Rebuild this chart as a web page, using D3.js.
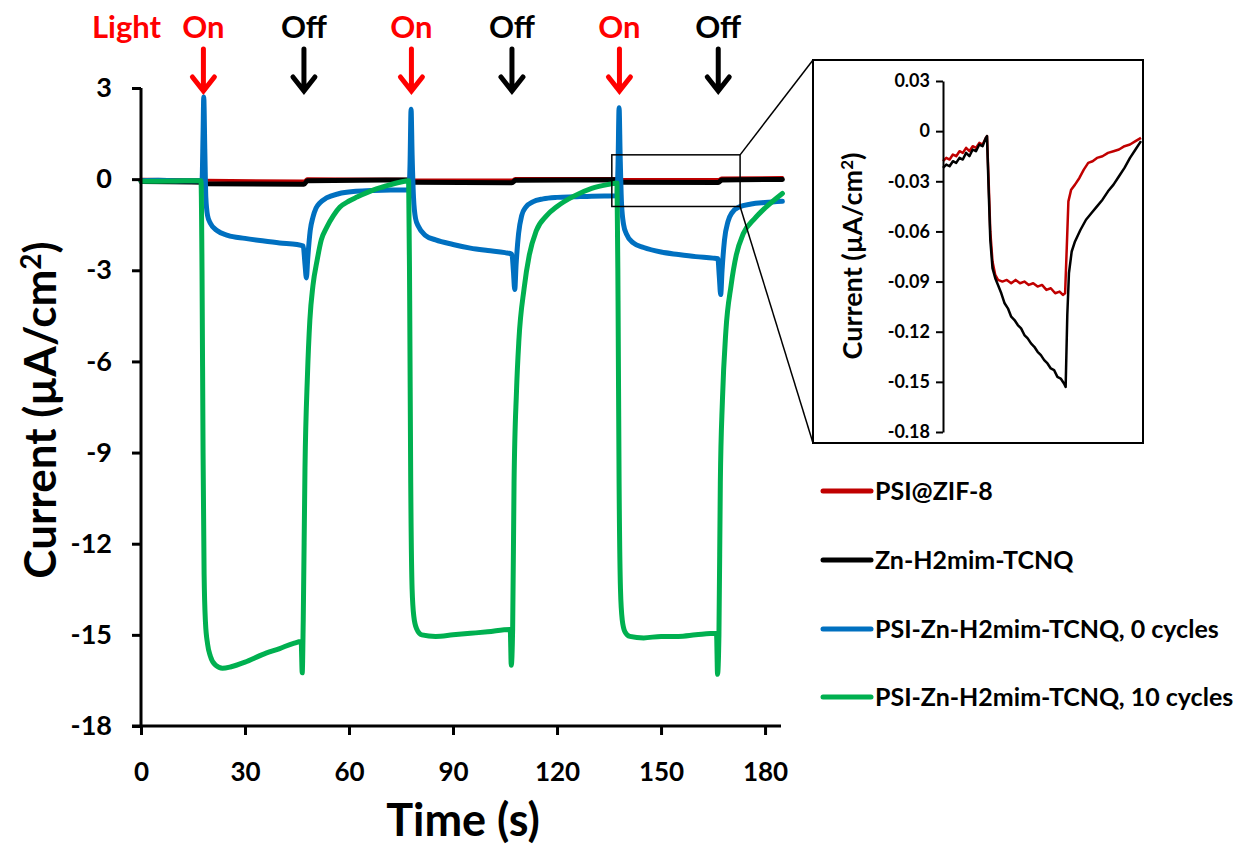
<!DOCTYPE html>
<html><head><meta charset="utf-8">
<script src="https://cdn.jsdelivr.net/npm/d3@7"></script>
<style>
html,body{margin:0;padding:0;background:#fff;}
svg{display:block;}
text{font-family:Lato,"Open Sans",sans-serif;font-weight:700;}
</style></head>
<body>
<svg id="chart" width="1242" height="849"></svg>
<script>
// ---------------- DATA ----------------
const seriesNames = ["PSI@ZIF-8","Zn-H2mim-TCNQ","PSI-Zn-H2mim-TCNQ, 0 cycles","PSI-Zn-H2mim-TCNQ, 10 cycles"];
const seriesColors = ["#C00000","#000000","#0070C0","#00B050"];
const xTicks = [0,30,60,90,120,150,180];
const yTicks = [3,0,-3,-6,-9,-12,-15,-18];
const insetYTicks = [0.03,0,-0.03,-0.06,-0.09,-0.12,-0.15,-0.18];
const onTimes = [18,78,138];
const offTimes = [47,107,166.5];

// main chart series: [time (s), current (uA/cm2)]
const redMain = [[0,0.0],[17.8,-0.02],[18.5,-0.04],[47,-0.06],[48,0.01],[77.5,0.0],[78.5,-0.03],[107,-0.03],[108,0.02],[137.5,0.02],[138.5,-0.01],[166.5,-0.01],[167.5,0.04],[185,0.05]];
const blackMain = [[0,-0.08],[17.8,-0.1],[18.5,-0.15],[47,-0.17],[48,-0.05],[77.5,-0.03],[78.5,-0.1],[107,-0.12],[108,-0.04],[137.5,-0.02],[138.5,-0.1],[166.5,-0.11],[167.5,-0.03],[185,-0.01]];
const blueMain = [[0,-0.05],[5,-0.04],[10,-0.05],[15,-0.05],[17.6,-0.05],[17.9,1.5],[18.1,2.7],[18.4,1.0],[18.7,-0.6],[19.2,-1.2],[20,-1.45],[22,-1.7],[25,-1.85],[30,-1.95],[35,-2.03],[40,-2.1],[45,-2.15],[46.8,-2.2],[47.3,-2.8],[47.7,-3.25],[48.1,-2.6],[48.8,-1.7],[49.6,-1.25],[50.5,-0.95],[51.6,-0.78],[53.5,-0.62],[57,-0.48],[62,-0.4],[67,-0.37],[72,-0.36],[77.3,-0.36],
  [77.6,0.5],[77.9,2.3],[78.2,0.8],[78.6,-0.6],[79.2,-1.3],[80,-1.55],[82,-1.85],[85,-2.0],[90,-2.15],[95,-2.27],[100,-2.35],[105,-2.42],[107,-2.47],[107.4,-3.0],[107.8,-3.63],[108.2,-2.8],[108.9,-1.8],[109.8,-1.2],[111,-0.92],[113,-0.75],[116,-0.65],[120,-0.6],[125,-0.58],[130,-0.56],[137.3,-0.55],
  [137.6,0.5],[137.9,2.35],[138.2,0.8],[138.6,-0.8],[139.2,-1.5],[140,-1.8],[142,-2.1],[145,-2.25],[150,-2.4],[155,-2.48],[160,-2.55],[165,-2.6],[166.4,-2.62],[166.8,-3.2],[167.2,-3.8],[167.6,-3.0],[168.3,-2.0],[169.3,-1.4],[170.5,-1.1],[172.5,-0.92],[176,-0.82],[180,-0.77],[185,-0.73]];
const greenMain = [[0,-0.07],[10,-0.06],[17.3,-0.05],[17.6,-3],[17.9,-9],[18.2,-13],[18.6,-14.6],[19.2,-15.3],[20,-15.7],[21.5,-16.0],[23.5,-16.1],[26,-16.05],[30,-15.9],[35,-15.65],[40,-15.45],[44,-15.28],[46.2,-15.22],
  [46.5,-16.25],[46.8,-14.5],[47.3,-9.5],[48,-6.5],[48.7,-4.65],[49.6,-3.5],[50.8,-2.67],[52,-2.0],[53.6,-1.58],[55.5,-1.2],[57.4,-0.92],[60,-0.72],[62.3,-0.59],[66.9,-0.36],[70,-0.25],[74.7,-0.1],[77.2,-0.05],
  [77.5,-4],[77.8,-10],[78.2,-13.5],[78.7,-14.4],[79.5,-14.8],[81,-15.0],[85,-15.05],[90,-15.0],[95,-14.95],[100,-14.9],[106.5,-14.82],
  [106.8,-16.0],[107.2,-14.8],[107.6,-10],[108.3,-7],[109,-5.3],[110.5,-3.6],[112,-2.5],[114,-1.7],[117,-1.2],[120,-0.9],[125,-0.55],[130,-0.3],[135,-0.17],[137.3,-0.13],
  [137.6,-4],[137.9,-10],[138.3,-13.5],[138.8,-14.5],[139.6,-14.9],[141,-15.05],[145,-15.1],[150,-15.05],[155,-15.05],[160,-15.0],[166.0,-14.95],
  [166.3,-16.3],[166.7,-15.0],[167.1,-10],[167.7,-7.3],[168.7,-5.0],[170.2,-3.5],[171.7,-2.5],[173.7,-1.8],[177,-1.3],[180,-0.95],[185,-0.47]];

// inset series: [relative time (s), current (uA/cm2)]
const redInset = [[0,-0.018],[0.6,-0.016],[1.2,-0.017],[1.8,-0.014],[2.4,-0.015],[3.0,-0.012],[3.6,-0.013],[4.2,-0.010],[4.8,-0.012],[5.4,-0.009],[6.0,-0.010],[6.6,-0.007],[7.2,-0.008],[7.8,-0.004],[8.0,-0.003],[8.3,-0.03],[8.6,-0.06],[9.0,-0.078],[9.5,-0.086],[10.0,-0.089],[10.8,-0.090],[11.6,-0.089],[12.4,-0.091],[13.2,-0.089],[14,-0.091],[14.8,-0.090],[15.6,-0.092],[16.4,-0.091],[17.2,-0.093],[18,-0.092],[18.8,-0.095],[19.6,-0.094],[20.4,-0.097],[21.2,-0.096],[21.8,-0.098],[22.2,-0.097],[22.5,-0.07],[22.8,-0.042],[23.3,-0.035],[24,-0.032],[24.8,-0.028],[25.6,-0.023],[26.4,-0.019],[27.2,-0.018],[28,-0.016],[29,-0.015],[30,-0.013],[31,-0.012],[32,-0.011],[33,-0.009],[34,-0.008],[35,-0.006],[36,-0.004]];
const blackInset = [[0,-0.022],[0.6,-0.020],[1.2,-0.021],[1.8,-0.018],[2.4,-0.019],[3.0,-0.016],[3.6,-0.017],[4.2,-0.013],[4.8,-0.015],[5.4,-0.011],[6.0,-0.012],[6.6,-0.008],[7.2,-0.009],[7.8,-0.004],[8.0,-0.003],[8.3,-0.035],[8.6,-0.065],[9.0,-0.082],[9.5,-0.088],[10.0,-0.092],[10.6,-0.097],[11.2,-0.103],[11.8,-0.106],[12.4,-0.111],[13.0,-0.113],[13.6,-0.116],[14.2,-0.118],[14.8,-0.122],[15.4,-0.124],[16.0,-0.127],[16.6,-0.129],[17.2,-0.132],[17.8,-0.134],[18.4,-0.137],[19.0,-0.139],[19.6,-0.142],[20.2,-0.143],[20.8,-0.147],[21.4,-0.148],[22.0,-0.151],[22.3,-0.153],[22.6,-0.11],[22.9,-0.085],[23.4,-0.072],[24,-0.066],[25,-0.059],[26,-0.053],[27,-0.049],[28,-0.045],[29,-0.041],[30,-0.036],[31,-0.032],[32,-0.027],[33,-0.022],[34,-0.016],[35,-0.011],[36,-0.006]];

// ---------------- DRAW ----------------
const svg = d3.select("#chart");
const x = d3.scaleLinear().domain([0,184.6]).range([141,781]);
const y = d3.scaleLinear().domain([-18,3]).range([726,88]);
const hy = s => String(s).replace("\u2212","-");

const line = d3.line().x(d=>x(d[0])).y(d=>y(d[1])).curve(d3.curveMonotoneX);
const mainSeries = [redMain, blackMain, blueMain, greenMain];
const mainWidths = [3,5,5,5];
mainSeries.forEach((s,i)=>{
  svg.append("path").attr("d",line(s)).attr("fill","none")
    .attr("stroke",seriesColors[i]).attr("stroke-width",mainWidths[i])
    .attr("stroke-linejoin","round").attr("stroke-linecap","round");
});

// axes
const xAxis = svg.append("g").attr("transform",`translate(0,${y(-18)})`)
  .call(d3.axisBottom(x).tickValues(xTicks).tickSize(9).tickSizeOuter(0).tickPadding(26).tickFormat(d=>String(d)));
const yAxis = svg.append("g").attr("transform",`translate(${x(0)},0)`)
  .call(d3.axisLeft(y).tickValues(yTicks).tickSize(9).tickSizeOuter(0).tickPadding(20).tickFormat(d=>hy(d)));
[xAxis,yAxis].forEach(a=>{
  a.select(".domain").attr("stroke","#000").attr("stroke-width",3);
  a.selectAll(".tick line").attr("stroke","#000").attr("stroke-width",3);
  a.selectAll(".tick text").attr("fill","#000").style("font-size","27px")
    .style("font-family","Lato, sans-serif").style("font-weight","700");
});
xAxis.selectAll(".tick text").style("font-size","26px").attr("dy","0.75em");
yAxis.select(".domain").attr("d",`M0,${y(3)}V${y(-18)}`);
xAxis.select(".domain").attr("d",`M${x(0)-9},0H781`);

// axis titles
svg.append("text").attr("x",463).attr("y",836).attr("text-anchor","middle")
  .style("font-size","45px").text("Time (s)");
const yt = svg.append("text").attr("transform","translate(56,410) rotate(-90)")
  .attr("text-anchor","middle").style("font-size","44px");
yt.append("tspan").text("Current (µA/cm");
yt.append("tspan").attr("dy",-15).style("font-size","28px").text("2");
yt.append("tspan").attr("dy",15).text(")");

// light on/off labels and arrows
svg.append("text").attr("x",92).attr("y",38).attr("fill","#FF0000")
  .style("font-size","31px").text("Light");
function arrow(t,color,label){
  const cx = x(t);
  svg.append("text").attr("x",cx).attr("y",38).attr("text-anchor","middle")
    .attr("fill",color).style("font-size","31px").text(label);
  svg.append("path").attr("d",`M${cx},49V90M${cx-11},77L${cx},91L${cx+11},77`)
    .attr("fill","none").attr("stroke",color).attr("stroke-width",5)
    .attr("stroke-linecap","round").attr("stroke-linejoin","miter");
}
onTimes.forEach(t=>arrow(t,"#FF0000","On"));
offTimes.forEach(t=>arrow(t,"#000000","Off"));

// zoom rectangle in main plot
const zx0 = x(135.8), zx1 = x(172.8), zy0 = y(0.8), zy1 = y(-0.9);
svg.append("rect").attr("x",zx0).attr("y",zy0).attr("width",zx1-zx0).attr("height",zy1-zy0)
  .attr("fill","none").attr("stroke","#000").attr("stroke-width",1.5);

// inset box
const ib = {x0:813,y0:60,x1:1143,y1:443};
svg.append("line").attr("x1",zx1).attr("y1",zy0).attr("x2",ib.x0).attr("y2",ib.y0)
  .attr("stroke","#000").attr("stroke-width",1.5);
svg.append("line").attr("x1",zx1).attr("y1",zy1).attr("x2",ib.x0).attr("y2",ib.y1)
  .attr("stroke","#000").attr("stroke-width",1.5);
svg.append("rect").attr("x",ib.x0).attr("y",ib.y0).attr("width",ib.x1-ib.x0).attr("height",ib.y1-ib.y0)
  .attr("fill","#fff").attr("stroke","#000").attr("stroke-width",2);

const xi = d3.scaleLinear().domain([0,36]).range([943,1141]);
const yi = d3.scaleLinear().domain([-0.18,0.03]).range([432,81]);
const lineI = d3.line().x(d=>xi(d[0])).y(d=>yi(d[1]));
[redInset, blackInset].forEach((s,i)=>{
  svg.append("path").attr("d",lineI(s)).attr("fill","none")
    .attr("stroke",seriesColors[i]).attr("stroke-width",2.5)
    .attr("stroke-linejoin","round");
});
const yiAxis = svg.append("g").attr("transform",`translate(943,0)`)
  .call(d3.axisLeft(yi).tickValues(insetYTicks).tickSize(7).tickSizeOuter(0).tickPadding(6)
    .tickFormat(d=>d===0?"0":hy(d3.format(".2f")(d))));
yiAxis.select(".domain").attr("stroke","#000").attr("stroke-width",2);
yiAxis.selectAll(".tick line").attr("stroke","#000").attr("stroke-width",2);
yiAxis.selectAll(".tick text").attr("fill","#000").style("font-size","18px")
  .style("font-family","Lato, sans-serif").style("font-weight","700");
const yti = svg.append("text").attr("transform","translate(862,256) rotate(-90)")
  .attr("text-anchor","middle").style("font-size","27px");
yti.append("tspan").text("Current (µA/cm");
yti.append("tspan").attr("dy",-9).style("font-size","17px").text("2");
yti.append("tspan").attr("dy",9).text(")");

// legend
const legendY = [491,560,629,697];
seriesNames.forEach((n,i)=>{
  svg.append("line").attr("x1",823).attr("x2",871).attr("y1",legendY[i]).attr("y2",legendY[i])
    .attr("stroke",seriesColors[i]).attr("stroke-width",5).attr("stroke-linecap","round");
  svg.append("text").attr("x",875).attr("y",legendY[i]).attr("dy","0.35em")
    .style("font-size","25px").attr("fill","#000").text(n);
});
</script>
</body></html>
